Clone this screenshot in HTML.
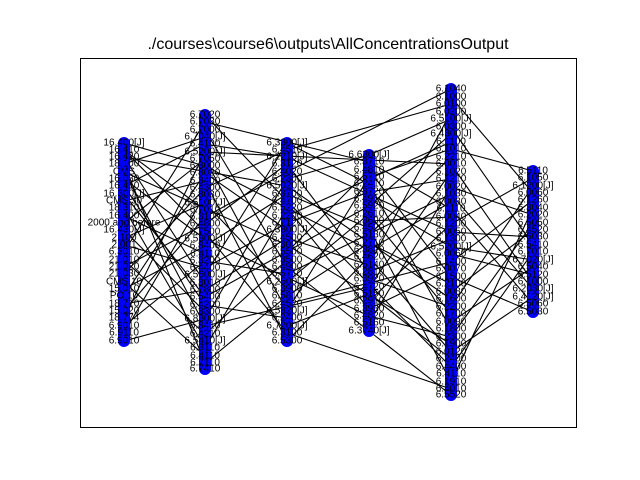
<!DOCTYPE html>
<html><head><meta charset="utf-8"><style>
html,body{margin:0;padding:0;background:#fff}
svg{display:block}
text{font-family:"Liberation Sans",sans-serif;font-size:10px;fill:#000}
</style></head><body>
<svg width="640" height="480" viewBox="0 0 640 480" xmlns="http://www.w3.org/2000/svg">
<rect x="0" y="0" width="640" height="480" fill="#fff"/>
<text x="328" y="49" text-anchor="middle" style="font-size:16px">./courses\course6\outputs\AllConcentrationsOutput</text>
<rect x="80.5" y="58.5" width="496" height="369" fill="none" stroke="#000" stroke-width="1"/>
<g stroke="#000" stroke-width="1.1">
<line x1="124" y1="143" x2="205" y2="166"/><line x1="124" y1="150" x2="205" y2="210"/><line x1="124" y1="157" x2="205" y2="283"/>
<line x1="124" y1="164" x2="205" y2="137"/><line x1="124" y1="172" x2="205" y2="326"/><line x1="124" y1="179" x2="205" y2="239"/>
<line x1="124" y1="186" x2="205" y2="144"/><line x1="124" y1="194" x2="205" y2="297"/><line x1="124" y1="201" x2="205" y2="181"/>
<line x1="124" y1="208" x2="205" y2="348"/><line x1="124" y1="216" x2="205" y2="254"/><line x1="124" y1="223" x2="205" y2="159"/>
<line x1="124" y1="230" x2="205" y2="312"/><line x1="124" y1="238" x2="205" y2="203"/><line x1="124" y1="245" x2="205" y2="268"/>
<line x1="124" y1="252" x2="205" y2="122"/><line x1="124" y1="260" x2="205" y2="334"/><line x1="124" y1="267" x2="205" y2="224"/>
<line x1="124" y1="274" x2="205" y2="188"/><line x1="124" y1="282" x2="205" y2="356"/><line x1="124" y1="289" x2="205" y2="246"/>
<line x1="124" y1="296" x2="205" y2="173"/><line x1="124" y1="304" x2="205" y2="290"/><line x1="124" y1="311" x2="205" y2="217"/>
<line x1="124" y1="318" x2="205" y2="152"/><line x1="124" y1="326" x2="205" y2="261"/><line x1="124" y1="333" x2="205" y2="195"/>
<line x1="124" y1="341" x2="205" y2="319"/><line x1="124" y1="157" x2="287" y2="186"/><line x1="124" y1="172" x2="287" y2="245"/>
<line x1="124" y1="164" x2="205" y2="363"/><line x1="124" y1="186" x2="205" y2="305"/><line x1="124" y1="150" x2="205" y2="232"/>
<line x1="205" y1="115" x2="287" y2="201"/><line x1="205" y1="130" x2="287" y2="267"/><line x1="205" y1="144" x2="287" y2="157"/>
<line x1="205" y1="159" x2="287" y2="311"/><line x1="205" y1="173" x2="287" y2="230"/><line x1="205" y1="188" x2="287" y2="150"/>
<line x1="205" y1="203" x2="287" y2="289"/><line x1="205" y1="217" x2="287" y2="172"/><line x1="205" y1="232" x2="287" y2="333"/>
<line x1="205" y1="246" x2="287" y2="194"/><line x1="205" y1="261" x2="287" y2="274"/><line x1="205" y1="275" x2="287" y2="143"/>
<line x1="205" y1="290" x2="287" y2="238"/><line x1="205" y1="305" x2="287" y2="318"/><line x1="205" y1="319" x2="287" y2="179"/>
<line x1="205" y1="334" x2="287" y2="260"/><line x1="205" y1="348" x2="287" y2="208"/><line x1="205" y1="363" x2="287" y2="296"/>
<line x1="205" y1="181" x2="287" y2="341"/><line x1="205" y1="224" x2="287" y2="164"/><line x1="205" y1="268" x2="287" y2="223"/>
<line x1="205" y1="122" x2="369" y2="162"/><line x1="205" y1="166" x2="369" y2="250"/><line x1="205" y1="297" x2="369" y2="206"/>
<line x1="205" y1="239" x2="369" y2="316"/><line x1="205" y1="152" x2="451" y2="164"/><line x1="205" y1="326" x2="369" y2="287"/>
<line x1="287" y1="143" x2="369" y2="184"/><line x1="287" y1="150" x2="451" y2="104"/><line x1="287" y1="164" x2="369" y2="272"/>
<line x1="287" y1="179" x2="369" y2="155"/><line x1="287" y1="194" x2="369" y2="228"/><line x1="287" y1="208" x2="369" y2="309"/>
<line x1="287" y1="223" x2="369" y2="192"/><line x1="287" y1="238" x2="369" y2="265"/><line x1="287" y1="252" x2="369" y2="170"/>
<line x1="287" y1="267" x2="369" y2="331"/><line x1="287" y1="282" x2="369" y2="214"/><line x1="287" y1="296" x2="369" y2="243"/>
<line x1="287" y1="311" x2="369" y2="177"/><line x1="287" y1="326" x2="369" y2="294"/><line x1="287" y1="341" x2="369" y2="257"/>
<line x1="287" y1="157" x2="451" y2="232"/><line x1="287" y1="186" x2="451" y2="299"/><line x1="287" y1="216" x2="451" y2="142"/>
<line x1="287" y1="245" x2="451" y2="344"/><line x1="287" y1="274" x2="451" y2="194"/><line x1="287" y1="304" x2="451" y2="262"/>
<line x1="287" y1="333" x2="451" y2="389"/><line x1="287" y1="172" x2="451" y2="89"/><line x1="287" y1="201" x2="451" y2="367"/>
<line x1="369" y1="155" x2="451" y2="119"/><line x1="369" y1="162" x2="451" y2="209"/><line x1="369" y1="170" x2="451" y2="277"/>
<line x1="369" y1="177" x2="451" y2="149"/><line x1="369" y1="184" x2="451" y2="329"/><line x1="369" y1="192" x2="451" y2="179"/>
<line x1="369" y1="199" x2="451" y2="247"/><line x1="369" y1="206" x2="451" y2="134"/><line x1="369" y1="214" x2="451" y2="314"/>
<line x1="369" y1="221" x2="451" y2="217"/><line x1="369" y1="228" x2="451" y2="382"/><line x1="369" y1="235" x2="451" y2="157"/>
<line x1="369" y1="243" x2="451" y2="284"/><line x1="369" y1="250" x2="451" y2="202"/><line x1="369" y1="257" x2="451" y2="352"/>
<line x1="369" y1="265" x2="451" y2="112"/><line x1="369" y1="272" x2="451" y2="239"/><line x1="369" y1="279" x2="451" y2="307"/>
<line x1="369" y1="287" x2="451" y2="172"/><line x1="369" y1="294" x2="451" y2="359"/><line x1="369" y1="301" x2="451" y2="224"/>
<line x1="369" y1="309" x2="451" y2="269"/><line x1="369" y1="316" x2="451" y2="337"/><line x1="369" y1="323" x2="451" y2="187"/>
<line x1="369" y1="331" x2="451" y2="395"/>
<line x1="451" y1="97" x2="533" y2="193"/><line x1="451" y1="127" x2="533" y2="245"/><line x1="451" y1="149" x2="533" y2="171"/>
<line x1="451" y1="164" x2="533" y2="282"/><line x1="451" y1="187" x2="533" y2="215"/><line x1="451" y1="209" x2="533" y2="304"/>
<line x1="451" y1="224" x2="533" y2="178"/><line x1="451" y1="247" x2="533" y2="260"/><line x1="451" y1="262" x2="533" y2="200"/>
<line x1="451" y1="277" x2="533" y2="312"/><line x1="451" y1="292" x2="533" y2="230"/><line x1="451" y1="307" x2="533" y2="186"/>
<line x1="451" y1="322" x2="533" y2="267"/><line x1="451" y1="337" x2="533" y2="223"/><line x1="451" y1="352" x2="533" y2="297"/>
<line x1="451" y1="367" x2="533" y2="252"/><line x1="451" y1="382" x2="533" y2="208"/><line x1="451" y1="194" x2="533" y2="289"/>
<line x1="451" y1="232" x2="533" y2="237"/><line x1="451" y1="254" x2="533" y2="275"/>
</g>
<g stroke="#0000ff" stroke-width="12" stroke-linecap="round">
<line x1="124" y1="143" x2="124" y2="341"/>
<line x1="205" y1="115" x2="205" y2="369"/>
<line x1="287" y1="143" x2="287" y2="341"/>
<line x1="369" y1="155" x2="369" y2="331"/>
<line x1="451" y1="89" x2="451" y2="395"/>
<line x1="533" y1="171" x2="533" y2="312"/>
</g>
<g text-anchor="middle" dominant-baseline="central">
<text x="124" y="143">16.400[J]</text><text x="124" y="150">16.410</text><text x="124" y="157">16.420</text><text x="124" y="164">18.100</text><text x="124" y="172">CMS</text><text x="124" y="179">16.030</text><text x="124" y="186">16.410</text><text x="124" y="194">16.300[J]</text><text x="124" y="201">CMS.30</text><text x="124" y="208">18.310</text><text x="124" y="216">16.400</text><text x="124" y="223">2000 and before</text><text x="124" y="230">16.430[J]</text><text x="124" y="238">2.100</text><text x="124" y="245">2.001</text><text x="124" y="252">6.3010</text><text x="124" y="260">21.010</text><text x="124" y="267">21.020</text><text x="124" y="274">21.030</text><text x="124" y="282">CMS.10</text><text x="124" y="289">15.010</text><text x="124" y="296">PO.10</text><text x="124" y="304">18.710</text><text x="124" y="311">15.020</text><text x="124" y="318">18.774</text><text x="124" y="326">6.9010</text><text x="124" y="333">6.9110</text><text x="124" y="341">6.9010</text>
<text x="205" y="115">6.7020</text><text x="205" y="122">6.7030</text><text x="205" y="130">6.7000</text><text x="205" y="137">6.7040[J]</text><text x="205" y="144">6.4100</text><text x="205" y="152">6.5200[J]</text><text x="205" y="159">6.7050</text><text x="205" y="166">6.3000</text><text x="205" y="173">6.8020</text><text x="205" y="181">6.3400</text><text x="205" y="188">6.4300</text><text x="205" y="195">6.8030</text><text x="205" y="203">6.5100[J]</text><text x="205" y="210">6.7010</text><text x="205" y="217">6.3100</text><text x="205" y="224">6.4800</text><text x="205" y="232">6.7500</text><text x="205" y="239">6.5300[J]</text><text x="205" y="246">6.8400</text><text x="205" y="254">6.4110</text><text x="205" y="261">6.3200</text><text x="205" y="268">6.4400</text><text x="205" y="275">6.5600[J]</text><text x="205" y="283">6.3010</text><text x="205" y="290">6.7800</text><text x="205" y="297">6.5400</text><text x="205" y="305">6.4200</text><text x="205" y="312">6.3300</text><text x="205" y="319">6.8300[J]</text><text x="205" y="326">6.8410</text><text x="205" y="334">6.4210</text><text x="205" y="341">6.5410[J]</text><text x="205" y="348">6.3110</text><text x="205" y="356">6.4110</text><text x="205" y="363">6.7110</text><text x="205" y="369">6.7410</text>
<text x="287" y="143">6.3300[J]</text><text x="287" y="150">6.4510</text><text x="287" y="157">6.2210[J]</text><text x="287" y="164">6.3120</text><text x="287" y="172">6.4020</text><text x="287" y="179">6.2300</text><text x="287" y="186">6.5020[J]</text><text x="287" y="194">6.3700</text><text x="287" y="201">6.4700</text><text x="287" y="208">6.5220</text><text x="287" y="216">6.2200</text><text x="287" y="223">6.7120</text><text x="287" y="230">6.3800[J]</text><text x="287" y="238">6.4500</text><text x="287" y="245">6.3020</text><text x="287" y="252">6.5500</text><text x="287" y="260">6.3500</text><text x="287" y="267">6.4900</text><text x="287" y="274">6.5710</text><text x="287" y="282">6.2500[J]</text><text x="287" y="289">6.3900</text><text x="287" y="296">6.5810</text><text x="287" y="304">6.4520</text><text x="287" y="311">6.5820[J]</text><text x="287" y="318">6.2400</text><text x="287" y="326">6.7200[J]</text><text x="287" y="333">6.3100</text><text x="287" y="341">6.5300</text>
<text x="369" y="155">6.6300[J]</text><text x="369" y="162">6.3710</text><text x="369" y="170">6.4810</text><text x="369" y="177">6.5710</text><text x="369" y="184">6.2410</text><text x="369" y="192">6.3720</text><text x="369" y="199">6.4910</text><text x="369" y="206">6.5920</text><text x="369" y="214">6.2610</text><text x="369" y="221">6.3600</text><text x="369" y="228">6.4520</text><text x="369" y="235">6.5130</text><text x="369" y="243">6.2710</text><text x="369" y="250">6.3820</text><text x="369" y="257">6.4620</text><text x="369" y="265">6.5140</text><text x="369" y="272">6.2810</text><text x="369" y="279">6.3920</text><text x="369" y="287">6.4720</text><text x="369" y="294">6.5150</text><text x="369" y="301">6.2910</text><text x="369" y="309">6.3930</text><text x="369" y="316">6.4820</text><text x="369" y="323">6.5160</text><text x="369" y="331">6.3740[J]</text>
<text x="451" y="89">6.1040</text><text x="451" y="97">6.1000</text><text x="451" y="104">6.0100</text><text x="451" y="112">6.0200</text><text x="451" y="119">6.5100[J]</text><text x="451" y="127">6.0300</text><text x="451" y="134">6.4300[J]</text><text x="451" y="142">6.1100</text><text x="451" y="149">6.1010</text><text x="451" y="157">6.2210</text><text x="451" y="164">6.0010</text><text x="451" y="172">6.1020</text><text x="451" y="179">6.1210</text><text x="451" y="187">6.0020</text><text x="451" y="194">6.1030</text><text x="451" y="202">6.0030</text><text x="451" y="209">6.1110</text><text x="451" y="217">6.0040</text><text x="451" y="224">6.1200</text><text x="451" y="232">6.0050</text><text x="451" y="239">6.1300</text><text x="451" y="247">6.5200[J]</text><text x="451" y="254">6.0060</text><text x="451" y="262">6.1400</text><text x="451" y="269">6.0070</text><text x="451" y="277">6.1500</text><text x="451" y="284">6.2100</text><text x="451" y="292">6.0080</text><text x="451" y="299">6.1600</text><text x="451" y="307">6.2200</text><text x="451" y="314">6.1700</text><text x="451" y="322">6.0090</text><text x="451" y="329">6.1800</text><text x="451" y="337">6.2300</text><text x="451" y="344">6.1900</text><text x="451" y="352">6.0120</text><text x="451" y="359">6.2400</text><text x="451" y="367">6.4400</text><text x="451" y="374">6.4110</text><text x="451" y="382">6.1910</text><text x="451" y="389">6.4010</text><text x="451" y="395">6.5520</text>
<text x="533" y="171">6.5110</text><text x="533" y="178">6.1050</text><text x="533" y="186">6.1200[J]</text><text x="533" y="193">6.0060</text><text x="533" y="200">6.1260</text><text x="533" y="208">6.3040</text><text x="533" y="215">6.2020</text><text x="533" y="223">6.5050</text><text x="533" y="230">6.4520</text><text x="533" y="237">6.6030</text><text x="533" y="245">6.5410</text><text x="533" y="252">6.7010</text><text x="533" y="260">6.7020[J]</text><text x="533" y="267">6.5040</text><text x="533" y="275">6.5120</text><text x="533" y="282">6.1000</text><text x="533" y="289">6.2030[J]</text><text x="533" y="297">6.4120[J]</text><text x="533" y="304">6.5060</text><text x="533" y="312">6.5030</text>
</g>
</svg>
</body></html>
